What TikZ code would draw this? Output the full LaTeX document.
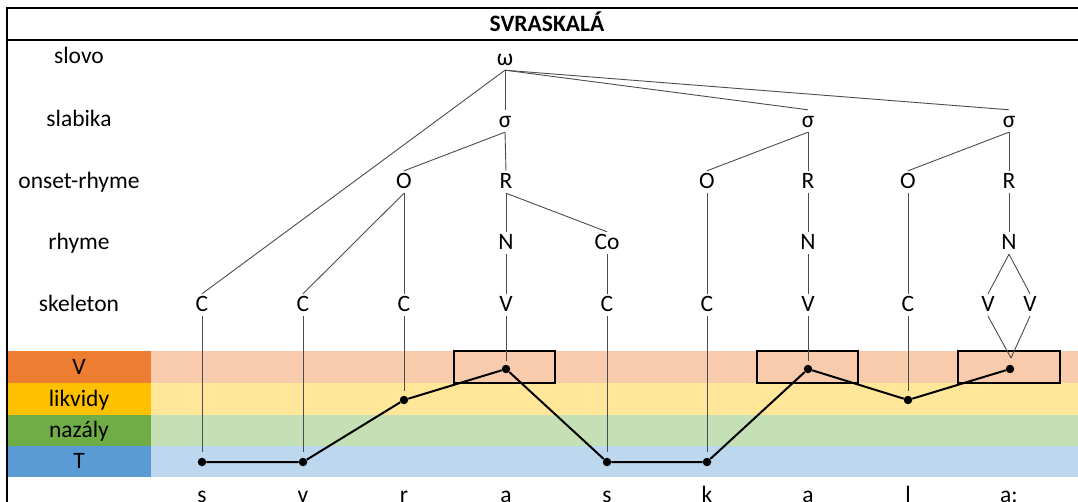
\documentclass[tikz,border=0pt]{standalone}
\usepackage{fontspec}
\setmainfont{Carlito}
\definecolor{vD}{HTML}{ED7D31}\definecolor{vL}{HTML}{F8CBAD}
\definecolor{lD}{HTML}{FFC000}\definecolor{lL}{HTML}{FFE699}
\definecolor{nD}{HTML}{70AD47}\definecolor{nL}{HTML}{C5E0B4}
\definecolor{tD}{HTML}{5B9BD5}\definecolor{tL}{HTML}{BDD7EE}
\newcommand{\myfs}{\fontsize{23.5}{27}\selectfont}
\begin{document}
\begin{tikzpicture}[x=1pt,y=-1pt,
  lab/.style={font=\myfs, text height=14pt, text depth=0pt, inner xsep=2pt, inner ysep=4pt},
  rowlab/.style={lab},
  tl/.style={draw=black!70, line width=0.9pt},
  frame/.style={line width=1.5pt},
  dotn/.style={circle, fill=black, inner sep=0pt, minimum size=8.5pt},
  pathl/.style={line width=2pt},
  vbox/.style={draw=black, line width=1.5pt}]
\useasboundingbox (0,0) rectangle (1078,502);
% bands
\fill[vL] (151,351) rectangle (1078,383);
\fill[lL] (151,383) rectangle (1078,415);
\fill[nL] (151,415) rectangle (1078,446);
\fill[tL] (151,446) rectangle (1078,477);
\fill[vD] (7,351) rectangle (151,383);
\fill[lD] (7,383) rectangle (151,415);
\fill[nD] (7,415) rectangle (151,446);
\fill[tD] (7,446) rectangle (151,477);
% frame
\draw[frame] (7,502) -- (7,8) -- (1078,8);
\draw[frame] (7,40) -- (1078,40);
\node[lab, font=\myfs\bfseries] (title) at (547,25) {SVRASKALÁ};
% row labels
\node[rowlab] (rl1) at (79,57) {slovo};
\node[rowlab] (rl2) at (79,120) {slabika};
\node[rowlab] (rl3) at (79,182) {onset-rhyme};
\node[rowlab] (rl4) at (79,243) {rhyme};
\node[rowlab] (rl5) at (79,305) {skeleton};
\node[rowlab] (bl1) at (79,367) {V};
\node[rowlab] (bl2) at (79,399) {likvidy};
\node[rowlab] (bl3) at (79,430) {nazály};
\node[rowlab] (bl4) at (79,461) {T};
% tree nodes
\node[lab] (w) at (505,59) {ω};
\node[lab] (s1) at (505,121) {σ};
\node[lab] (s2) at (808,121) {σ};
\node[lab] (s3) at (1009,121) {σ};
\node[lab] (o1) at (404,182) {O};
\node[lab] (r1) at (506,182) {R};
\node[lab] (o2) at (707,182) {O};
\node[lab] (r2) at (808,182) {R};
\node[lab] (o3) at (908,182) {O};
\node[lab] (r3) at (1009,182) {R};
\node[lab] (n1) at (506,243) {N};
\node[lab] (co) at (607,243) {Co};
\node[lab] (n2) at (808,243) {N};
\node[lab] (n3) at (1009,243) {N};
\node[lab] (k1) at (202,305) {C};
\node[lab] (k2) at (303,305) {C};
\node[lab] (k3) at (404,305) {C};
\node[lab] (k4) at (506,305) {V};
\node[lab] (k5) at (607,305) {C};
\node[lab] (k6) at (707,305) {C};
\node[lab] (k7) at (808,305) {V};
\node[lab] (k8) at (908,305) {C};
\node[lab] (k9) at (988,305) {V};
\node[lab] (k10) at (1030,305) {V};
% tree edges
\draw[tl] (w.south) -- (s1.north);
\draw[tl] (w.south) -- (s2.north);
\draw[tl] (w.south) -- (s3.north);
\draw[tl] (w.south) -- (k1.north);
\draw[tl] (s1.south) -- (o1.north);
\draw[tl] (s1.south) -- (r1.north);
\draw[tl] (s2.south) -- (o2.north);
\draw[tl] (s2.south) -- (r2.north);
\draw[tl] (s3.south) -- (o3.north);
\draw[tl] (s3.south) -- (r3.north);
\draw[tl] (o1.south) -- (k2.north);
\draw[tl] (o1.south) -- (k3.north);
\draw[tl] (r1.south) -- (n1.north);
\draw[tl] (r1.south) -- (co.north);
\draw[tl] (n1.south) -- (k4.north);
\draw[tl] (co.south) -- (k5.north);
\draw[tl] (o2.south) -- (k6.north);
\draw[tl] (r2.south) -- (n2.north);
\draw[tl] (n2.south) -- (k7.north);
\draw[tl] (o3.south) -- (k8.north);
\draw[tl] (r3.south) -- (n3.north);
\draw[tl] (n3.south) -- (k9.north);
\draw[tl] (n3.south) -- (k10.north);
% boxes
\draw[vbox] (454,351) rectangle (555,383);
\draw[vbox] (757,351) rectangle (858,383);
\draw[vbox] (958,351) rectangle (1060,383);
% dots
\node[dotn] (d1) at (202,462) {};
\node[dotn] (d2) at (303,462) {};
\node[dotn] (d3) at (404,400) {};
\node[dotn] (d4) at (506,369) {};
\node[dotn] (d5) at (607,462) {};
\node[dotn] (d6) at (707,462) {};
\node[dotn] (d7) at (808,369) {};
\node[dotn] (d8) at (908,400) {};
\node[dotn] (d9) at (1010,369) {};
\coordinate (u1) at (202,452);
\coordinate (u2) at (303,452);
\coordinate (u3) at (404,391);
\coordinate (u4) at (506,361);
\coordinate (u5) at (607,452);
\coordinate (u6) at (707,452);
\coordinate (u7) at (808,361);
\coordinate (u8) at (908,391);
\coordinate (u9) at (1011,358);
\draw[tl] (k1.south) -- (u1);
\draw[tl] (k2.south) -- (u2);
\draw[tl] (k3.south) -- (u3);
\draw[tl] (k4.south) -- (u4);
\draw[tl] (k5.south) -- (u5);
\draw[tl] (k6.south) -- (u6);
\draw[tl] (k7.south) -- (u7);
\draw[tl] (k8.south) -- (u8);
\draw[tl] (k9.south) -- (u9);
\draw[tl] (k10.south) -- (u9);
\draw[pathl] (d1) -- (d2) -- (d3) -- (d4) -- (d5) -- (d6) -- (d7) -- (d8) -- (d9);
% bottom letters
\foreach \x/\t/\n in {202/s/b1,303/v/b2,404/r/b3,506/a/b4,607/s/b5,707/k/b6,808/a/b7,908/l/b8,1009/a:/b9}
  \node[font=\myfs, anchor=base, inner sep=0pt] (\n) at (\x,502) {\t};
\end{tikzpicture}
\end{document}
